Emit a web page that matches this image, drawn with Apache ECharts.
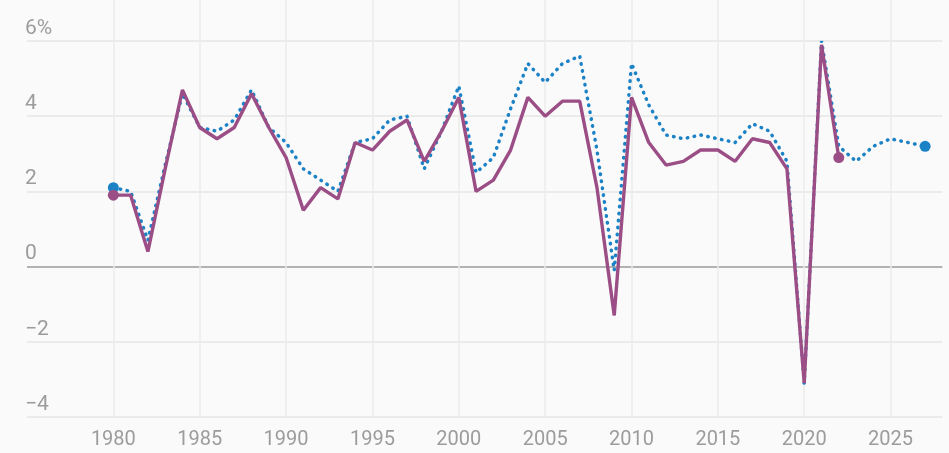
<!DOCTYPE html>
<html>
<head>
<meta charset="utf-8">
<script src="https://cdn.jsdelivr.net/npm/echarts@6/dist/echarts.min.js"></script>
<style>
  html, body { margin: 0; padding: 0; background: #fafafa; }
  #chart { width: 949px; height: 453px; }
</style>
</head>
<body>
<div id="chart"></div>
<script>
// ---- data ----
const blueYears = [1980,1981,1982,1983,1984,1985,1986,1987,1988,1989,1990,1991,1992,1993,1994,1995,1996,1997,1998,1999,2000,2001,2002,2003,2004,2005,2006,2007,2008,2009,2010,2011,2012,2013,2014,2015,2016,2017,2018,2019,2020,2021,2022,2023,2024,2025,2026,2027];
const blueValues = [2.1,2.0,0.7,2.7,4.6,3.7,3.6,3.9,4.7,3.7,3.3,2.6,2.3,2.0,3.3,3.4,3.9,4.0,2.6,3.6,4.8,2.5,2.9,4.2,5.4,4.9,5.4,5.6,3.1,-0.1,5.4,4.3,3.5,3.4,3.5,3.4,3.3,3.8,3.6,2.8,-3.1,6.0,3.2,2.8,3.2,3.4,3.3,3.2];
const purpleYears = [1980,1981,1982,1983,1984,1985,1986,1987,1988,1989,1990,1991,1992,1993,1994,1995,1996,1997,1998,1999,2000,2001,2002,2003,2004,2005,2006,2007,2008,2009,2010,2011,2012,2013,2014,2015,2016,2017,2018,2019,2020,2021,2022];
const purpleValues = [1.9,1.9,0.4,2.6,4.7,3.7,3.4,3.7,4.6,3.7,2.9,1.5,2.1,1.8,3.3,3.1,3.6,3.9,2.8,3.6,4.5,2.0,2.3,3.1,4.5,4.0,4.4,4.4,2.1,-1.3,4.5,3.3,2.7,2.8,3.1,3.1,2.8,3.4,3.3,2.6,-3.1,5.9,2.9];
const yTicks = [-4,-2,0,2,4,6];
const xTicks = [1980,1985,1990,1995,2000,2005,2010,2015,2020,2025];

const FONT = 'Roboto';
const TEXT = '#9c9c9c';
const BLUE = '#1c82c6';
const PURPLE = '#9b4d85';

function pairs(xs, ys) { return xs.map((x, i) => [x, ys[i]]); }
function endSize(n, size) {
  return (val, params) => (params.dataIndex === 0 || params.dataIndex === n - 1) ? size : 0;
}

const vColors = ['rgba(0,0,0,0)'].concat(xTicks.map(() => '#ebebeb')).concat(['rgba(0,0,0,0)']);
const hColors = yTicks.map(v => v === 0 ? '#9a9a9a' : '#e6e6e6');

const chart = echarts.init(document.getElementById('chart'), null, { renderer: 'canvas' });
chart.setOption({
  backgroundColor: '#fafafa',
  animation: false,
  grid: [
    { left: 27, right: 6.6, top: 41, bottom: 36 },
    { left: 27, right: 6.6, top: 0, bottom: 36 }
  ],
  xAxis: [
    { gridIndex: 0, type: 'value', min: 1975, max: 2028, interval: 5, show: false },
    {
      gridIndex: 1, type: 'value', min: 1975, max: 2028, interval: 5,
      axisLine: { show: false }, axisTick: { show: false },
      splitLine: { show: true, lineStyle: { color: vColors, width: 1.5 } },
      axisLabel: {
        margin: 13, color: TEXT, fontFamily: FONT, fontSize: 20,
        formatter: v => xTicks.indexOf(v) >= 0 ? String(v) : ''
      }
    }
  ],
  yAxis: [
    {
      gridIndex: 0, type: 'value', min: -4, max: 6, interval: 2,
      axisLine: { show: false }, axisTick: { show: false },
      splitLine: { show: true, lineStyle: { color: hColors, width: 1.5 } },
      axisLabel: {
        inside: true, margin: -2, align: 'left', verticalAlign: 'bottom',
        padding: [0, 0, 2, 0],
        color: TEXT, fontFamily: FONT, fontSize: 21,
        formatter: v => v === 6 ? '6%' : (v < 0 ? '\u2212' + Math.abs(v) : String(v))
      }
    },
    { gridIndex: 1, type: 'value', min: 0, max: 1, show: false }
  ],
  series: [
    {
      type: 'line', xAxisIndex: 0, yAxisIndex: 0,
      data: pairs(blueYears, blueValues),
      showSymbol: true, showAllSymbol: true, symbol: 'circle',
      symbolSize: endSize(blueYears.length, 11),
      itemStyle: { color: BLUE },
      lineStyle: { color: BLUE, width: 3.5, type: [0.5, 6.5], cap: 'round' },
      z: 2
    },
    {
      type: 'line', xAxisIndex: 0, yAxisIndex: 0,
      data: pairs(purpleYears, purpleValues),
      showSymbol: true, showAllSymbol: true, symbol: 'circle',
      symbolSize: endSize(purpleYears.length, 11),
      itemStyle: { color: PURPLE },
      lineStyle: { color: PURPLE, width: 3.4 },
      z: 3
    }
  ]
});
</script>
</body>
</html>
